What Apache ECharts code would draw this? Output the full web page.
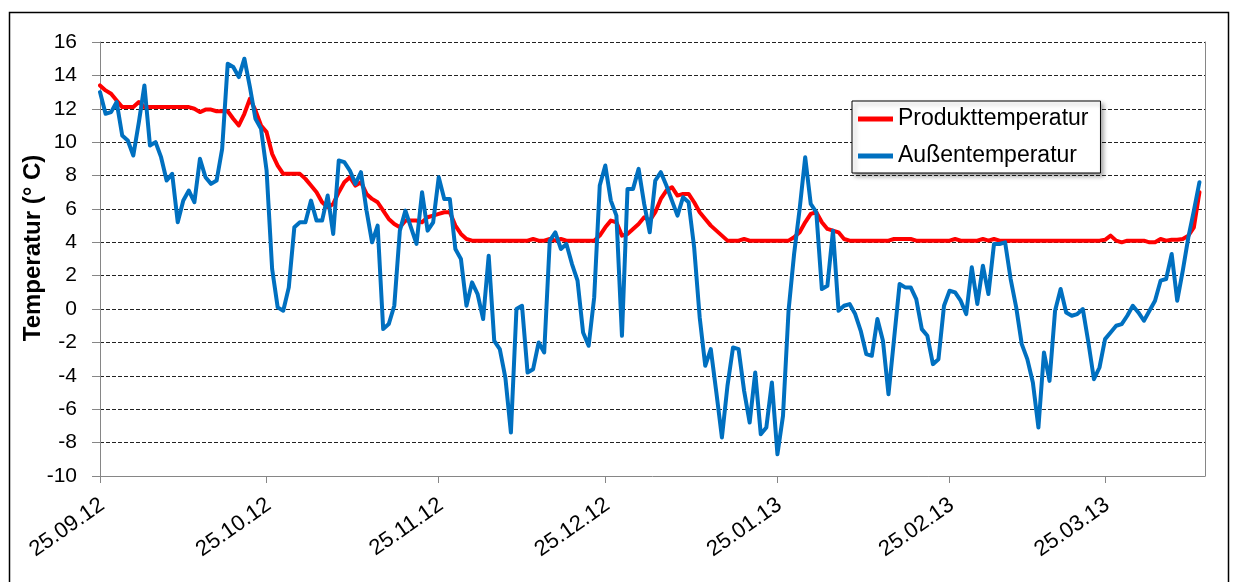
<!DOCTYPE html>
<html>
<head>
<meta charset="utf-8">
<script src="https://cdn.jsdelivr.net/npm/echarts@6/dist/echarts.min.js"></script>
<style>
  html, body { margin: 0; padding: 0; background: #fff; }
  #chart { width: 1234px; height: 582px; }
</style>
</head>
<body>
<div id="chart"></div>
<script>
// Daily readings, one value per day starting 25.09.12 (day 0)

// Produkttemperatur (°C)
const produkt = [
  13.4, 13.1, 12.9, 12.5, 12.1, 12.1, 12.1, 12.4, 12.1, 12.1,
  12.1, 12.1, 12.1, 12.1, 12.1, 12.1, 12.1, 12.0, 11.8, 11.95,
  11.95, 11.85, 11.85, 11.85, 11.4, 11.0, 11.7, 12.6, 11.9, 11.0,
  10.6, 9.3, 8.6, 8.1, 8.1, 8.1, 8.1, 7.8, 7.4, 7.0,
  6.4, 6.1, 6.3, 7.0, 7.6, 7.9, 7.4, 7.6, 6.9, 6.6,
  6.4, 5.9, 5.4, 5.1, 4.9, 5.3, 5.3, 5.3, 5.2, 5.5,
  5.6, 5.7, 5.8, 5.8, 5.0, 4.5, 4.2, 4.1, 4.1, 4.1,
  4.1, 4.1, 4.1, 4.1, 4.1, 4.1, 4.1, 4.1, 4.2, 4.1,
  4.1, 4.2, 4.1, 4.2, 4.1, 4.1, 4.1, 4.1, 4.1, 4.1,
  4.4, 4.9, 5.3, 5.2, 4.4, 4.5, 4.8, 5.1, 5.5, 5.3,
  5.8, 6.6, 7.1, 7.3, 6.8, 6.9, 6.9, 6.4, 5.8, 5.4,
  5.0, 4.7, 4.4, 4.1, 4.1, 4.1, 4.2, 4.1, 4.1, 4.1,
  4.1, 4.1, 4.1, 4.1, 4.1, 4.3, 4.6, 5.2, 5.7, 5.8,
  5.2, 4.8, 4.7, 4.6, 4.2, 4.1, 4.1, 4.1, 4.1, 4.1,
  4.1, 4.1, 4.1, 4.2, 4.2, 4.2, 4.2, 4.1, 4.1, 4.1,
  4.1, 4.1, 4.1, 4.1, 4.2, 4.1, 4.1, 4.1, 4.1, 4.2,
  4.1, 4.2, 4.1, 4.1, 4.1, 4.1, 4.1, 4.1, 4.1, 4.1,
  4.1, 4.1, 4.1, 4.1, 4.1, 4.1, 4.1, 4.1, 4.1, 4.1,
  4.1, 4.15, 4.4, 4.1, 4.0, 4.1, 4.1, 4.1, 4.1, 4.0,
  4.0, 4.2, 4.1, 4.15, 4.15, 4.2, 4.4, 4.9, 7.0
];

// Außentemperatur (°C)
const aussen = [
  13.0, 11.7, 11.8, 12.4, 10.4, 10.1, 9.2, 11.2, 13.4, 9.8,
  10.0, 9.1, 7.7, 8.1, 5.2, 6.5, 7.1, 6.4, 9.0, 7.9,
  7.5, 7.7, 9.6, 14.7, 14.5, 13.9, 15.0, 13.3, 11.4, 10.8,
  8.3, 2.4, 0.1, -0.1, 1.3, 4.9, 5.2, 5.2, 6.5, 5.3,
  5.3, 6.8, 4.5, 8.9, 8.8, 8.3, 7.5, 8.2, 5.9, 4.0,
  5.0, -1.2, -0.9, 0.2, 4.7, 5.9, 4.9, 3.9, 7.0, 4.7,
  5.2, 7.9, 6.6, 6.6, 3.6, 3.0, 0.2, 1.6, 0.9, -0.6,
  3.2, -1.9, -2.4, -4.1, -7.4, 0.0, 0.2, -3.8, -3.6, -2.0,
  -2.6, 4.1, 4.6, 3.6, 3.9, 2.7, 1.7, -1.4, -2.2, 0.7,
  7.4, 8.6, 6.5, 5.6, -1.6, 7.2, 7.2, 8.4, 6.3, 4.6,
  7.7, 8.2, 7.4, 6.5, 5.6, 6.7, 6.4, 3.7, -0.5, -3.4,
  -2.4, -5.0, -7.7, -4.6, -2.3, -2.4, -4.9, -6.8, -3.8, -7.5,
  -7.1, -4.4, -8.7, -6.4, -0.1, 3.3, 6.0, 9.1, 6.3, 5.8,
  1.2, 1.4, 4.7, -0.1, 0.2, 0.3, -0.3, -1.3, -2.7, -2.8,
  -0.6, -1.9, -5.1, -1.8, 1.5, 1.3, 1.3, 0.6, -1.2, -1.6,
  -3.3, -3.0, 0.2, 1.1, 1.0, 0.5, -0.3, 2.5, 0.3, 2.6,
  0.9, 3.9, 3.9, 4.0, 1.8, 0.1, -2.1, -3.0, -4.4, -7.1,
  -2.6, -4.3, -0.1, 1.2, -0.2, -0.4, -0.3, 0.0, -2.0, -4.2,
  -3.5, -1.8, -1.4, -1.0, -0.9, -0.4, 0.2, -0.2, -0.7, -0.1,
  0.5, 1.7, 1.8, 3.3, 0.5, 2.3, 4.3, 5.9, 7.6
];

// Date axis: tick positions (days after 25.09.12) and their labels
const tickDays = [0, 30, 61, 91, 122, 153, 181];
const tickLabels = ['25.09.12', '25.10.12', '25.11.12', '25.12.12', '25.01.13', '25.02.13', '25.03.13'];
const lastDay = 199; // 12.04.13

const seriesNames = ['Produkttemperatur', 'Außentemperatur'];
const seriesColors = ['#FF0000', '#0070C0'];

const FONT = '"Liberation Sans", Arial, Helvetica, sans-serif';
const AXIS_GREY = '#868686';

const chart = echarts.init(document.getElementById('chart'), null, { renderer: 'canvas' });

const toPoints = arr => arr.map((v, i) => [i, v]);

chart.setOption({
  backgroundColor: '#fff',
  animation: false,
  textStyle: { fontFamily: FONT },
  grid: { left: 100, right: 29, top: 42, bottom: 106 },
  graphic: [{
    type: 'rect',
    left: 7, top: 10,
    shape: { width: 1219, height: 620 },
    style: { fill: 'none', stroke: '#000', lineWidth: 1.5 },
    silent: true, z: -1
  }],
  legend: {
    data: seriesNames,
    orient: 'vertical',
    left: 852, top: 101,
    icon: 'rect',
    itemWidth: 35, itemHeight: 5, itemGap: 11,
    padding: [5, 12, 4, 6],
    backgroundColor: '#fff',
    borderColor: '#000', borderWidth: 1,
    shadowColor: 'rgba(0,0,0,0.35)', shadowBlur: 4, shadowOffsetX: 3, shadowOffsetY: 3,
    textStyle: { fontSize: 23, color: '#000', lineHeight: 26, fontFamily: FONT }
  },
  xAxis: {
    type: 'value',
    min: 0, max: lastDay,
    axisLine: { show: true, onZero: false, lineStyle: { color: AXIS_GREY, width: 1 } },
    axisTick: { show: true, length: 7, customValues: tickDays, lineStyle: { color: AXIS_GREY } },
    axisLabel: {
      customValues: tickDays,
      formatter: v => tickLabels[tickDays.indexOf(v)] || '',
      rotate: 35, fontSize: 22, color: '#000', margin: 15,
      verticalAlign: 'top', padding: [0, 5, 0, 0], fontFamily: FONT
    },
    splitLine: { show: false }
  },
  yAxis: [{
    type: 'value',
    min: -10, max: 16, interval: 2,
    name: 'Temperatur (° C)',
    nameLocation: 'middle', nameGap: 55, nameMoveOverlap: false,
    nameTextStyle: { fontSize: 24, fontWeight: 'bold', color: '#000', fontFamily: FONT, padding: [0, 0, 0, 22] },
    axisLine: { show: true, onZero: false, lineStyle: { color: AXIS_GREY, width: 1 } },
    axisTick: { show: true, length: 8, lineStyle: { color: AXIS_GREY } },
    axisLabel: { fontSize: 21, color: '#000', margin: 23, fontFamily: FONT },
    splitLine: { show: true, showMinLine: false, lineStyle: { color: '#222', type: [4, 2], width: 1.2 } }
  }, {
    type: 'value',
    min: -10, max: 16, interval: 2,
    position: 'right',
    axisLine: { show: true, onZero: false, lineStyle: { color: AXIS_GREY, width: 1 } },
    axisTick: { show: false }, axisLabel: { show: false }, splitLine: { show: false }
  }],
  series: [produkt, aussen].map((arr, k) => ({
    name: seriesNames[k],
    type: 'line',
    data: toPoints(arr),
    symbol: 'none',
    smooth: false,
    z: 2 + k,
    itemStyle: { color: seriesColors[k] },
    lineStyle: { color: seriesColors[k], width: 4, join: 'round', cap: 'round' }
  }))
});
</script>
</body>
</html>
